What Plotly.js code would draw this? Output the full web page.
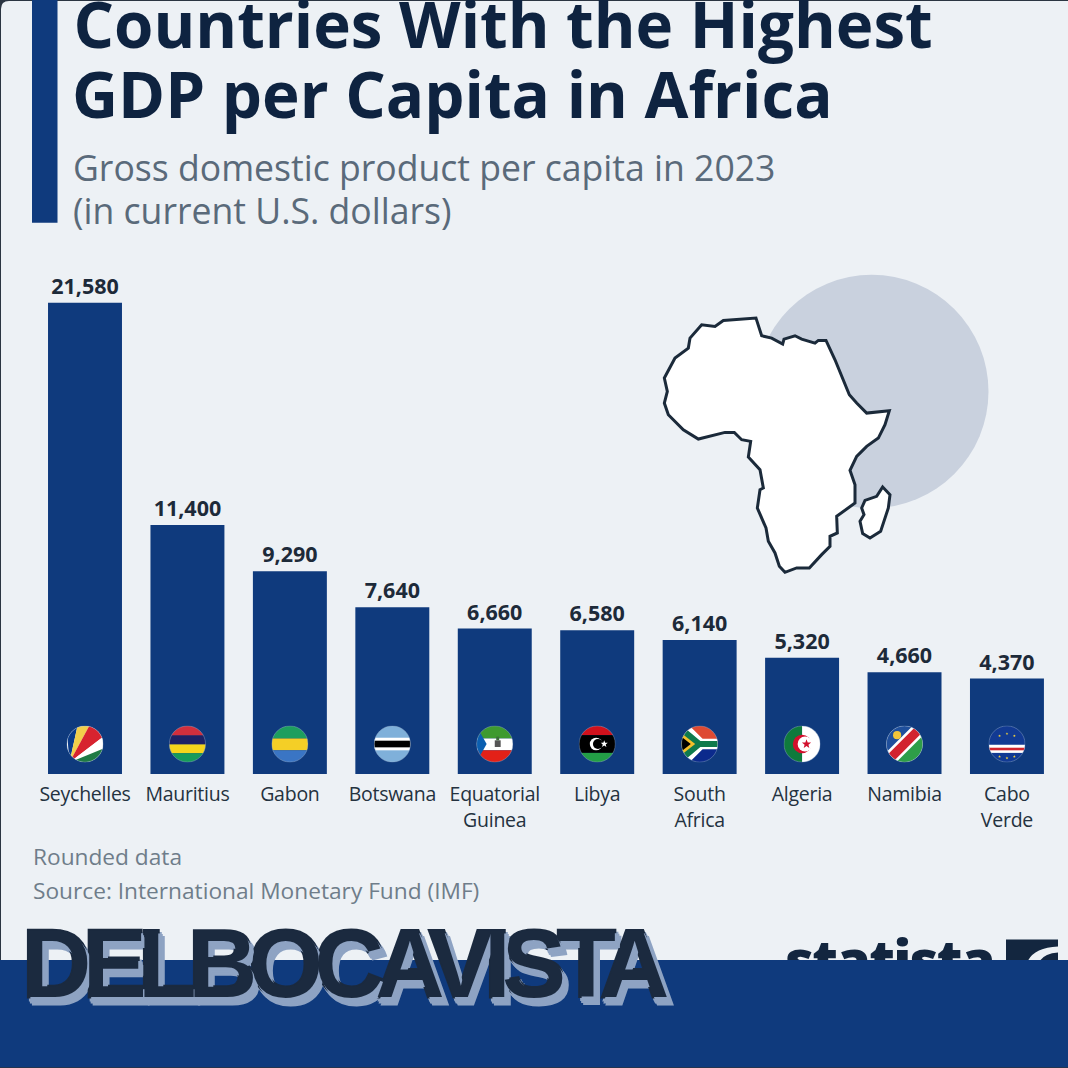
<!DOCTYPE html>
<html><head><meta charset="utf-8">
<script src="https://cdn.plot.ly/plotly-3.0.1.min.js"></script>
<style>html,body{margin:0;padding:0;background:#2b3542}
.annotation[data-index="6"] text{letter-spacing:-8.7px;stroke:#1b2a3f;stroke-width:3px;paint-order:stroke}
.annotation[data-index="5"] text{letter-spacing:-1.8px}
.xtick text{letter-spacing:-0.25px}
</style></head>
<body><div id="chart" style="width:1068px;height:1068px"></div>
<script>
const countries = ["Seychelles","Mauritius","Gabon","Botswana","Equatorial<br>Guinea","Libya","South<br>Africa","Algeria","Namibia","Cabo<br>Verde"];
const gdpPerCapita = [21580,11400,9290,7640,6660,6580,6140,5320,4660,4370];
const titleLines = ["Countries With the Highest","GDP per Capita in Africa"];
const subtitleLines = ["Gross domestic product per capita in 2023","(in current U.S. dollars)"];
const noteText = "Rounded data";
const sourceText = "Source: International Monetary Fund (IMF)";
const watermarkText = "DELBOCAVISTA";
const logoText = "statista";

const W=1068,H=1068,BASE=774.5;
const px=x=>x/W, py=y=>1-y/BASE;
const outline=[[348,175],[365,228],[395,235],[428,253],[432,238],[465,228],[485,238],[525,250],[535,242],[558,242],[585,300],[628,405],[650,430],[680,460],[748,453],[735,495],[715,535],[680,560],[650,590],[630,632],[645,675],[645,730],[590,770],[592,820],[570,830],[570,860],[545,885],[508,925],[470,925],[435,938],[418,920],[405,880],[385,845],[378,805],[352,745],[360,690],[370,685],[360,630],[325,592],[332,545],[305,540],[283,518],[255,518],[175,538],[130,510],[85,465],[73,430],[82,395],[73,355],[105,295],[145,265],[150,235],[185,195],[225,200],[250,182]];
const island=[[728,682],[750,705],[745,745],[722,815],[690,835],[668,822],[660,785],[672,765],[665,745],[675,722],[710,710]];
const toPath=p=>'M'+p.map(([a,b])=>px(640+a/3)+','+py(260+b/3)).join('L')+'Z';

const star=(cx,cy,r,f)=>{let s='';for(let i=0;i<10;i++){const R=i%2?r*0.42:r,a=-Math.PI/2+i*Math.PI/5;s+=(cx+R*Math.cos(a)).toFixed(1)+','+(cy+R*Math.sin(a)).toFixed(1)+' ';}return `<polygon points="${s}" fill="${f}"/>`;};
const rect=(x,y,w,h,f)=>`<rect x="${x}" y="${y}" width="${w}" height="${h}" fill="${f}"/>`;
const poly=(p,f)=>`<polygon points="${p}" fill="${f}"/>`;
const flagBodies=[
 rect(0,0,100,100,'#fff')+poly('8,100 0,0 30,0','#0a3b8a')+poly('8,100 30,0 62,0','#f2cf4a')+poly('8,100 62,0 100,0 100,30','#d7232f')+poly('8,100 100,30 100,62','#fff')+poly('8,100 100,62 100,100','#1f7a45'),
 rect(0,0,100,27,'#d22f3d')+rect(0,27,100,24,'#1d2266')+rect(0,51,100,24,'#f6d41c')+rect(0,75,100,25,'#169b5b'),
 rect(0,0,100,35,'#1d9e5e')+rect(0,35,100,32,'#f4cf26')+rect(0,67,100,33,'#3a75c4'),
 rect(0,0,100,100,'#7fb0da')+rect(0,33,100,34,'#fff')+rect(0,41,100,18,'#000'),
 rect(0,0,100,35,'#3e9a2f')+rect(0,35,100,32,'#fff')+rect(0,67,100,33,'#e32118')+poly('0,0 28,50 0,100','#0b5fb0')+rect(50,40,16,18,'#555')+rect(54,30,8,10,'#3c6e3a'),
 rect(0,0,100,26,'#d0111c')+rect(0,26,100,48,'#000')+rect(0,74,100,26,'#239e46')+'<circle cx="47" cy="50" r="17" fill="#fff"/><circle cx="52" cy="50" r="13.5" fill="#000"/>'+star(69,50,10,'#fff'),
 rect(0,0,100,50,'#de4a33')+rect(0,50,100,50,'#0b2a8c')+poly('0,0 22,0 58,36 100,36 100,64 58,64 22,100 0,100','#fff')+poly('0,10 14,10 52,42 100,42 100,58 52,58 14,90 0,90','#0f7a4c')+poly('0,20 38,50 0,80','#f5bf2a')+poly('0,30 26,50 0,70','#000'),
 rect(0,0,50,100,'#0f7a3c')+rect(50,0,50,100,'#fff')+'<circle cx="50" cy="50" r="25" fill="#d2102c"/><circle cx="58" cy="50" r="20" fill="#fff"/>'+star(62,50,13,'#d2102c'),
 rect(0,0,100,100,'#fff')+poly('0,0 100,0 0,100','#1f4f9c')+poly('100,100 100,0 0,100','#2e9e48')+poly('-10,83 83,-10 110,17 17,110','#fff')+poly('-5,88 88,-5 105,12 12,105','#d2232f')+'<circle cx="30" cy="26" r="11" fill="#f2c53a"/>',
 rect(0,0,100,100,'#123a93')+rect(0,52,100,22,'#fff')+rect(0,60,100,7,'#d1222d')+[[50,22],[70,28],[30,28],[50,88],[70,84],[30,84]].map(([a,b])=>star(a,b,4,'#f4d13a')).join('')
];
const flagUri=b=>'data:image/svg+xml;charset=utf-8,'+encodeURIComponent(`<svg xmlns="http://www.w3.org/2000/svg" width="144" height="144" viewBox="0 0 100 100"><defs><clipPath id="c"><circle cx="50" cy="50" r="49"/></clipPath></defs><g clip-path="url(#c)">${b}</g><circle cx="50" cy="50" r="49" fill="none" stroke="#9fb4cf" stroke-width="1.6" opacity=".7"/></svg>`);

const INK='#0e2340',SUB='#5a6a7a',FOOT='#6f7d8a',NAVY='#0f3a7d';
const anno=(text,x,y,size,color,extra)=>Object.assign({text,xref:'paper',yref:'paper',x:px(x),y:py(y),xanchor:'left',yanchor:'top',showarrow:false,align:'left',font:Object.assign({family:'"Open Sans",sans-serif',size,color})},extra||{});

const annotations=[
 anno(titleLines[1],69.5,48.3,63.7,INK,{font:{family:'"Open Sans",sans-serif',size:63.7,color:INK,weight:700}}),
 anno(subtitleLines[0],71,141,35.6,SUB),
 anno(subtitleLines[1],71,184,35.6,SUB),
 anno(noteText,31,840,22.7,FOOT),
 anno(sourceText,31,874,22.7,FOOT),
 anno(logoText,783,920,56,INK,{height:39,width:225,valign:'top',align:'left',font:{family:'"Open Sans",sans-serif',size:56,color:'#13263f',weight:800}}),
 anno(watermarkText,20,909,96,'#1b2a3f',{font:{family:'"Liberation Sans",sans-serif',size:96,color:'#1b2a3f',weight:700,
   shadow:'2px 3px 0 #8ea3c3,3px 5px 0 #8ea3c3,5px 7px 0 #8ea3c3'}})
];

const b=(x,y)=>px(x)+','+py(y);
const shapes=[
 {type:'path',layer:'below',xref:'paper',yref:'paper',path:`M${b(1,980)}L${b(1,9)}Q${b(1,1)} ${b(9,1)}L${b(1075,1)}L${b(1075,980)}Z`,fillcolor:'#edf1f5',line:{width:0}},
 {type:'rect',layer:'below',xref:'paper',yref:'paper',x0:px(1006),x1:px(1058),y0:py(940),y1:py(961),fillcolor:'#13263f',line:{width:0}},
 {type:'path',layer:'below',xref:'paper',yref:'paper',path:`M${b(1028,961)}Q${b(1035,948)} ${b(1058,947)}L${b(1058,953)}Q${b(1045,954)} ${b(1040,961)}Z`,fillcolor:'#edf1f5',line:{width:0}},
 {type:'rect',layer:'below',xref:'paper',yref:'paper',x0:px(0),x1:px(W),y0:py(960.5),y1:py(H),fillcolor:NAVY,line:{width:0}},
 {type:'rect',layer:'below',xref:'paper',yref:'paper',x0:px(32),x1:px(57.5),y0:py(0),y1:py(223),fillcolor:NAVY,line:{width:0}},
 {type:'circle',layer:'below',xref:'paper',yref:'paper',x0:px(755),x1:px(988.5),y0:py(275),y1:py(508.5),fillcolor:'#c9d1de',line:{width:0}},
 {type:'path',layer:'below',xref:'paper',yref:'paper',path:toPath(outline),fillcolor:'#ffffff',line:{color:'#1b2a3a',width:3}},
 {type:'path',layer:'below',xref:'paper',yref:'paper',path:toPath(island),fillcolor:'#ffffff',line:{color:'#1b2a3a',width:3}}
];

const images=flagBodies.map((f,i)=>({source:flagUri(f),xref:'x',yref:'paper',x:i,y:py(744.5),sizex:37/102.44,sizey:37/BASE,xanchor:'center',yanchor:'middle',sizing:'stretch',layer:'above'}));

const trace={type:'bar',x:countries,y:gdpPerCapita,marker:{color:NAVY},width:0.722,
 texttemplate:'%{y:,}',textposition:'outside',cliponaxis:false,
 textfont:{family:'"Open Sans",sans-serif',size:21.5,color:'#1d2a39',weight:700},hoverinfo:'x+y'};

const layout={width:W,height:H,
 margin:{l:0,r:0,t:0,b:H-BASE,pad:0},
 paper_bgcolor:'#2b3542',plot_bgcolor:'rgba(0,0,0,0)',showlegend:false,
 title:{text:titleLines[0],x:px(73.5),xanchor:'left',xref:'container',y:1-48/H,yref:'container',yanchor:'bottom',pad:{b:0},font:{family:'"Open Sans",sans-serif',size:63.7,color:INK,weight:700}},
 xaxis:{type:'category',range:[-85/102.44,(W-85)/102.44],categoryorder:'array',categoryarray:countries,ticks:'outside',ticklen:3,tickcolor:'rgba(0,0,0,0)',showgrid:false,zeroline:false,showline:false,fixedrange:true,tickangle:0,tickfont:{family:'"Open Sans",sans-serif',size:19.5,color:'#24323f'}},
 yaxis:{range:[0,21580*BASE/471.5],visible:false,showgrid:false,zeroline:false,fixedrange:true},
 shapes,images,annotations};
Plotly.newPlot('chart',[trace],layout,{displayModeBar:false,responsive:false});
</script></body></html>
